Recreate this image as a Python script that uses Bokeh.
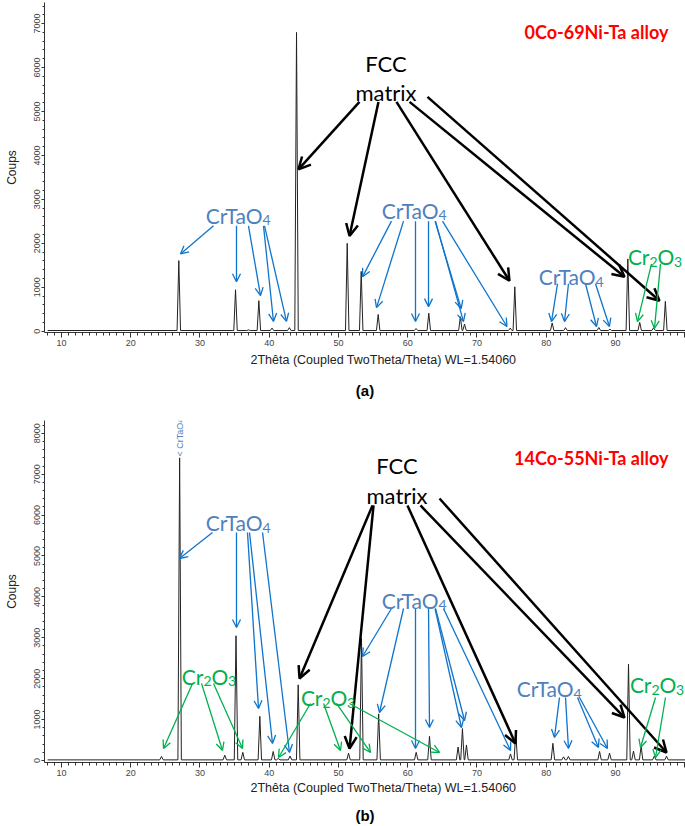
from math import pi
from bokeh.plotting import figure
from bokeh.models import (Label, Arrow, OpenHead, ColumnDataSource, SingleIntervalTicker,
                          Title, LinearAxis, FixedTicker)
from bokeh.layouts import column
from bokeh.embed import file_html
from bokeh.resources import INLINE

# ---------------- data ----------------
# panel (a) 0Co-69Ni-Ta : peak positions (2theta) and heights (counts)
peaks_a_pos = [26.94, 35.13, 37.0, 38.5, 40.4, 42.9, 43.94, 51.26, 53.28, 55.73, 61.2, 63.04,
               67.6, 68.2, 74.8, 75.46, 80.86, 82.78, 87.6, 89.2, 91.78, 93.5, 95.5, 97.2]
peaks_a_cnt = [1606, 943, 30, 694, 70, 80, 6800, 2000, 1360, 380, 60, 410,
               330, 160, 70, 1010, 185, 80, 84, 45, 1644, 200, 77, 679]
# panel (b) 14Co-55Ni-Ta
peaks_b_pos = [24.44, 27.06, 33.58, 35.2, 36.18, 38.64, 40.57, 41.3, 43.0, 44.18, 51.45, 53.32,
               55.8, 61.22, 63.14, 67.27, 67.9, 68.48, 74.84, 75.6, 80.96, 82.5, 83.2, 87.7,
               89.14, 91.88, 92.6, 93.7, 95.6, 97.37]
peaks_b_cnt = [100, 7400, 130, 3050, 200, 1080, 220, 50, 110, 1850, 180, 2990,
               1140, 200, 590, 330, 780, 380, 160, 650, 420, 90, 100, 220,
               180, 2360, 230, 350, 105, 106]
baseline_cnt = 15

x_tick_labels = ["10", "20", "30", "40", "50", "60", "70", "80", "90"]
x_title = "2Thêta (Coupled TwoTheta/Theta) WL=1.54060"
y_title = "Coups"

# annotation arrows (start -> tip), data units
fcc_a = dict(x0=[53.03, 55.77, 58.37, 60.26, 62.85], y0=[5218, 5218, 5218, 5218, 5331],
             x1=[44.22, 51.59, 74.69, 91.3, 96.35], y1=[3681, 2165, 1147, 1237, 694])
ctao_a = dict(x0=[31.95, 35.27, 37.0, 39.17, 39.32, 57.65, 59.39, 61.12, 63.0, 63.94, 64.01, 65.02,
                  81.63, 83.21, 85.67, 87.11],
              y0=[2398] * 5 + [2504] * 7 + [1079] * 4,
              x1=[27.18, 35.27, 38.74, 40.61, 42.49, 53.47, 55.49, 61.12, 63.0, 67.72, 68.05, 74.33,
                  80.76, 82.64, 87.26, 89.13],
              y1=[1758, 1124, 808, 222, 222, 1237, 536, 219, 558, 513, 219, 106, 219, 219, 106, 106])
cro_a = dict(x0=[95.2, 96.5], y0=[1531, 1531], x1=[93.18, 95.63], y1=[219, 61])

fcc_b = dict(x0=[54.91, 55.06, 59.96, 61.84, 64.59], y0=[6235, 6235, 6235, 6235, 6406],
             x1=[44.37, 51.59, 75.56, 91.3, 97.37], y1=[2005, 293, 416, 1051, 196])
ctao_b = dict(x0=[31.8, 35.27, 36.86, 37.15, 39.03, 57.65, 59.39, 61.12, 63.0, 63.94, 64.01, 65.16,
                  81.91, 82.78, 84.51, 84.8],
              y0=[5575] * 5 + [3716] * 7 + [1540] * 4,
              x1=[27.04, 35.27, 38.45, 40.47, 42.92, 53.47, 55.92, 61.12, 63.14, 67.76, 68.2, 74.84,
                  81.19, 83.21, 87.54, 88.84],
              y1=[4939, 3252, 1271, 416, 196, 2543, 1174, 293, 807, 807, 978, 245, 562, 293, 318, 293])
cro_b = dict(x0=[28.92, 30.22, 31.95, 45.96, 47.84, 49.71, 51.59, 95.78, 97.22],
             y0=[1883, 1883, 1883, 1394, 1394, 1394, 1394, 1540, 1540],
             x1=[24.73, 33.25, 36.14, 41.34, 50.29, 54.62, 64.59, 93.61, 95.78],
             y1=[293, 245, 293, 73, 245, 196, 196, 318, 73])

BLUE_T = "#4F81BD"
BLUE_A = "#0F74CC"
GREEN = "#00B050"
CAL = "Lato"
ARIAL = "Liberation Sans"

XR = (7.545, 100.11)


def spectrum(pos, cnt, hw=0.25):
    xs, ys = [8.0], [baseline_cnt]
    for p, h in sorted(zip(pos, cnt)):
        xs += [p - hw, p, p + hw]
        ys += [baseline_cnt, h, baseline_cnt]
    xs.append(XR[1])
    ys.append(baseline_cnt)
    return xs, ys


def make_fig(height, yr, top, bottom, panel_label, title_standoff, label_standoff):
    p = figure(width=685, height=height, x_range=XR, y_range=yr, output_backend="svg",
               toolbar_location=None, min_border_left=44, min_border_right=0,
               min_border_top=top, min_border_bottom=bottom)
    p.outline_line_color = None
    p.grid.visible = False
    p.background_fill_color = "white"
    p.border_fill_color = "white"
    p.xaxis.ticker = SingleIntervalTicker(interval=10, num_minor_ticks=10)
    p.yaxis.ticker = SingleIntervalTicker(interval=1000, num_minor_ticks=5)
    p.yaxis.major_label_orientation = "vertical"
    overrides = {int(t): t for t in x_tick_labels}
    overrides[100] = ""
    p.xaxis.major_label_overrides = overrides
    for ax in (p.xaxis, p.yaxis):
        ax.axis_line_color = "#333333"
        ax.major_tick_line_color = "#333333"
        ax.minor_tick_line_color = "#333333"
        ax.major_tick_in = 0
        ax.minor_tick_in = 0
        ax.major_label_text_font = ARIAL
        ax.major_label_text_font_size = "9px"
        ax.major_label_text_color = "#444444"
    p.xaxis.major_tick_out = 5
    p.xaxis.minor_tick_out = 3
    p.xaxis.major_label_standoff = 2
    p.yaxis.major_tick_out = 3
    p.yaxis.minor_tick_out = 2
    p.yaxis.major_label_standoff = 1
    p.yaxis.axis_label = y_title
    p.yaxis.axis_label_text_font = ARIAL
    p.yaxis.axis_label_text_font_size = "12px"
    p.yaxis.axis_label_text_font_style = "normal"
    p.yaxis.axis_label_text_color = "#222222"
    p.yaxis.axis_label_standoff = 13
    # axis title (left aligned with offset, like the reference)
    p.add_layout(Title(text=x_title, align="left", offset=206, standoff=title_standoff,
                       text_font=ARIAL, text_font_size="12.5px", text_font_style="normal",
                       text_color="#222222", vertical_align="middle"), "below")
    # panel letter
    lab_axis = LinearAxis(ticker=FixedTicker(ticks=[]), axis_label=panel_label,
                          axis_line_color=None, major_tick_line_color=None,
                          minor_tick_line_color=None, major_tick_out=0, minor_tick_out=0,
                          major_label_standoff=0, major_label_text_font_size="0px",
                          axis_label_standoff=label_standoff, axis_label_text_font=ARIAL,
                          axis_label_text_font_size="15px", axis_label_text_font_style="bold",
                          axis_label_text_color="black")
    p.add_layout(lab_axis, "below")
    return p


def arrows(p, d, color, lw, size):
    src = ColumnDataSource(d)
    p.add_layout(Arrow(end=OpenHead(size=size, line_color=color, line_width=lw),
                       x_start="x0", y_start="y0", x_end="x1", y_end="y1", source=src,
                       line_color=color, line_width=lw))


def lab(p, text, x, y, size, color, font=CAL, align="left", style="normal",
        baseline="alphabetic", angle=0, xo=0, yo=0):
    p.add_layout(Label(x=x, y=y, text=text, text_font_size=size, text_color=color,
                       text_font=font, text_align=align, text_font_style=style,
                       text_baseline=baseline, angle=angle, x_offset=xo, y_offset=yo))


def crtao4(p, xs, yb):
    lab(p, "CrTaO", xs, yb, "21px", BLUE_T, align="right")
    lab(p, "4", xs, yb, "14px", BLUE_T, yo=-5)


def cr2o3(p, xs, yb):
    lab(p, "Cr", xs, yb, "21px", GREEN, align="right")
    lab(p, "2", xs, yb, "14px", GREEN, yo=-5)
    lab(p, "O", xs, yb, "21px", GREEN, xo=8)
    lab(p, "3", xs, yb, "14px", GREEN, xo=24.5, yo=-5)


# ---------------- panel (a) ----------------
p1 = make_fig(401, (-30, 7480), 2, 67, "(a)", 6, 11)
xa, ya = spectrum(peaks_a_pos, peaks_a_cnt)
p1.line(xa, ya, line_color="#222222", line_width=1)
arrows(p1, fcc_a, "black", 2.5, 12)
arrows(p1, ctao_a, BLUE_A, 1.3, 8)
arrows(p1, cro_a, GREEN, 1.3, 8)
lab(p1, "FCC", 56.86, 6101, "22px", "black", align="center")
lab(p1, "matrix", 56.86, 5422, "22px", "black", align="center")
lab(p1, "0Co-69Ni-Ta alloy", 97.65, 6802, "18px", "#FF0000", align="right", style="bold")
crtao4(p1, 39.03, 2640)
crtao4(p1, 64.44, 2753)
crtao4(p1, 87.11, 1237)
cr2o3(p1, 94.91, 1690)

# ---------------- panel (b) ----------------
p2 = make_fig(425, (-49, 8313), 19, 64, "(b)", 2, 10)
xb, yb = spectrum(peaks_b_pos, peaks_b_cnt)
p2.line(xb, yb, line_color="#222222", line_width=1)
arrows(p2, fcc_b, "black", 2.5, 12)
arrows(p2, ctao_b, BLUE_A, 1.3, 8)
arrows(p2, cro_b, GREEN, 1.3, 8)
lab(p2, "FCC", 58.45, 7213, "22px", "black", align="center")
lab(p2, "matrix", 58.45, 6479, "22px", "black", align="center")
lab(p2, "14Co-55Ni-Ta alloy", 97.65, 7384, "18px", "#FF0000", align="right", style="bold")
lab(p2, "< CrTaO4", 27.04, 7433, "9px", BLUE_T, font=ARIAL, baseline="middle", angle=pi / 2)
crtao4(p2, 39.03, 5819)
crtao4(p2, 64.44, 3912)
crtao4(p2, 83.94, 1760)
cr2o3(p2, 30.5, 2054)
cr2o3(p2, 47.69, 1540)
cr2o3(p2, 95.2, 1858)

layout = column(p1, p2, spacing=0)
open("out.html", "w").write(file_html(layout, INLINE))
